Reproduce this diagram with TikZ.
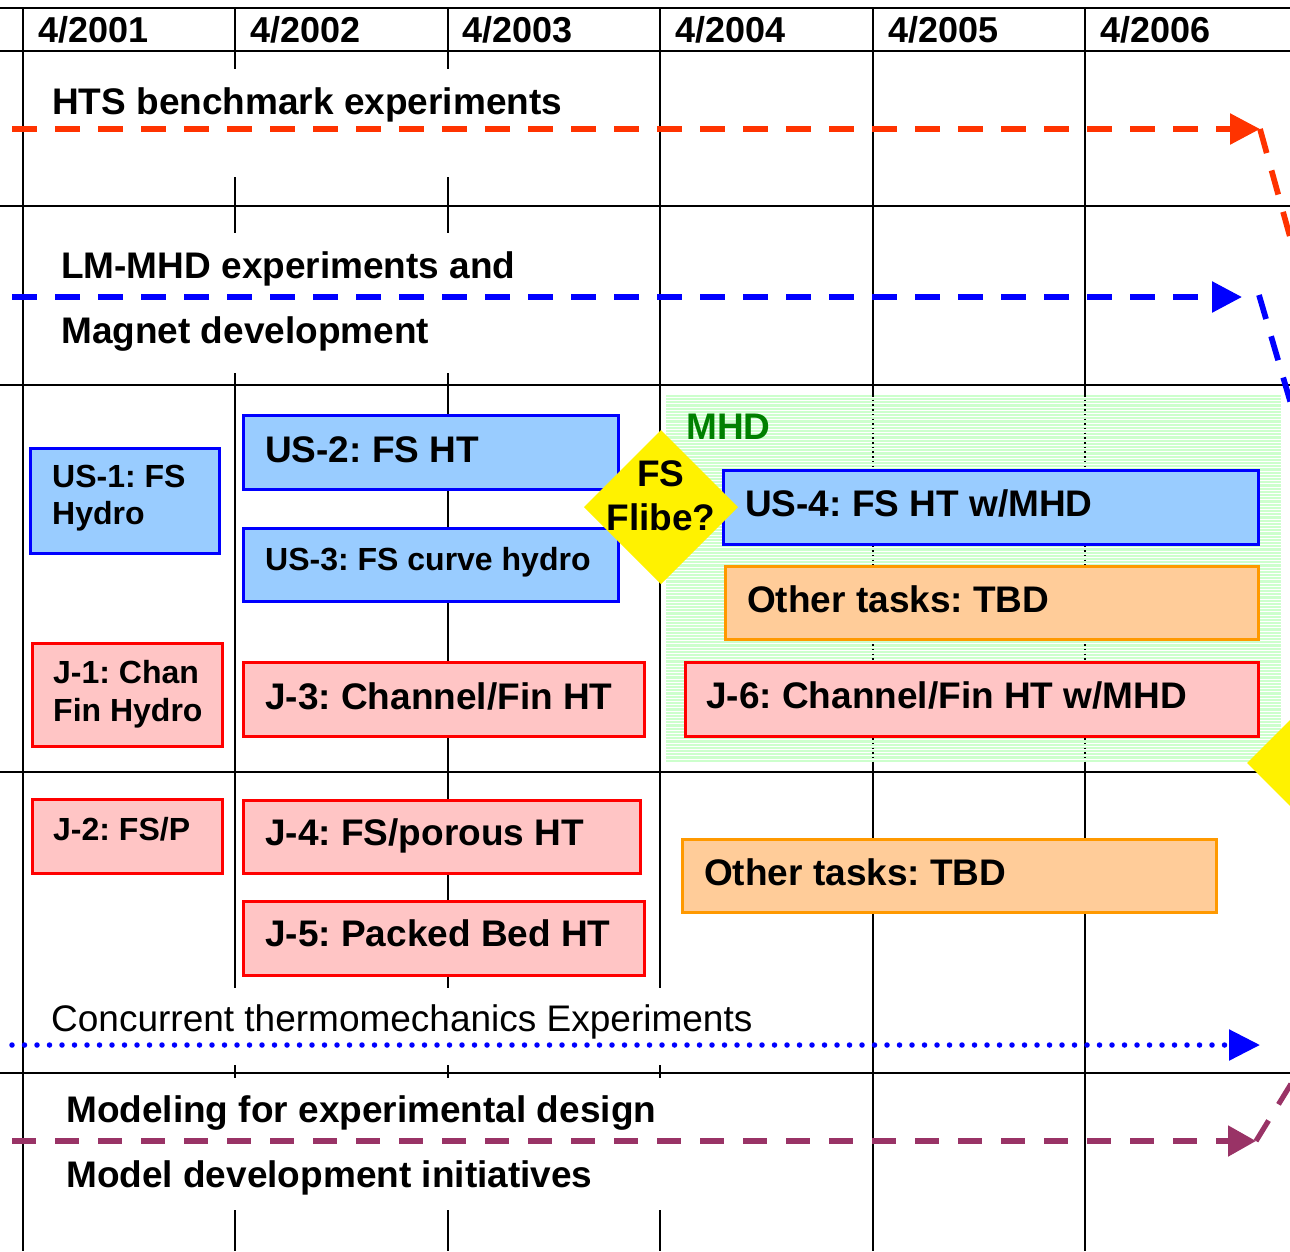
\documentclass[tikz,border=0pt]{standalone}
\usepackage{fontspec}
\setmainfont{Liberation Sans}
\frenchspacing
\usetikzlibrary{arrows.meta,shapes.geometric}
\definecolor{boxblue}{HTML}{99CCFF}
\definecolor{boxpink}{HTML}{FFC5C5}
\definecolor{boxorange}{HTML}{FFCC99}
\definecolor{edgeorange}{HTML}{FF9900}
\definecolor{htsred}{HTML}{FF3300}
\definecolor{mhdgreen}{HTML}{008000}
\definecolor{stripegreen}{HTML}{CCFFCC}
\definecolor{plum}{HTML}{993366}
\tikzset{
  gridline/.style={line width=2pt, black},
  lbl/.style={inner sep=0pt, anchor=base west, font=\frenchspacing\fontsize{37}{44}\selectfont\bfseries},
  hdr/.style={lbl, font=\fontsize{36}{42}\selectfont\bfseries},
  lblsmall/.style={lbl, font=\frenchspacing\fontsize{32}{37}\selectfont\bfseries},
  lblplain/.style={lbl, font=\frenchspacing\fontsize{37}{44}\selectfont},
  taskbox/.style={draw, line width=3pt, anchor=north west, inner sep=0pt, outer sep=0pt},
  bluebox/.style={taskbox, draw=blue, fill=boxblue},
  redbox/.style={taskbox, draw=red, fill=boxpink},
  orangebox/.style={taskbox, draw=edgeorange, fill=boxorange},
  flag/.style={diamond, fill=yellow, inner sep=0pt, outer sep=0pt, minimum width=154pt, minimum height=154pt},
  bigdash/.style={line width=5.7pt, dash pattern=on 25pt off 18pt},
  bigtip/.style={-{Triangle[length=30pt,width=30pt]}}
}
\begin{document}
\begin{tikzpicture}[x=1pt,y=-1pt]
\useasboundingbox (0,0) rectangle (1290,1251);
\clip (0,0) rectangle (1290,1251);

% grid
\foreach \yy in {8,51,206,385,772,1073} \draw[gridline] (0,\yy) -- (1290,\yy);
\draw[gridline] (23,8) -- (23,1251);
\foreach \xx in {235,448} {
  \draw[gridline] (\xx,8)--(\xx,69) (\xx,177)--(\xx,233) (\xx,373)--(\xx,988)
                  (\xx,1065)--(\xx,1078) (\xx,1210)--(\xx,1251);
}
\draw[gridline] (660,8)--(660,988) (660,1065)--(660,1078) (660,1210)--(660,1251);
\draw[gridline] (873,8)--(873,1251) (1085,8)--(1085,1251);

% header
\node[hdr] (h1) at (38,42) {4/2001};
\node[hdr] (h2) at (250,42) {4/2002};
\node[hdr] (h3) at (462,42) {4/2003};
\node[hdr] (h4) at (675,42) {4/2004};
\node[hdr] (h5) at (888,42) {4/2005};
\node[hdr] (h6) at (1100,42) {4/2006};

% MHD region
\fill[stripegreen] (666,395) rectangle (1281,762);
\foreach \i in {0,...,113} \draw[white, line width=0.9pt] (666,{397.5+3.2*\i}) -- (1281,{397.5+3.2*\i});
\draw[black, line width=1.5pt, dash pattern=on 1.5pt off 3.2pt] (873,395)--(873,762) (1085,395)--(1085,762);
\node[lbl, text=mhdgreen] (mhd) at (686,439) {MHD};

% row texts
\node[lbl] (hts) at (52,114) {HTS benchmark experiments};
\node[lbl] (lm1) at (61,278) {LM-MHD experiments and};
\node[lbl] (lm2) at (61,343) {Magnet development};

% US boxes
\node[bluebox, minimum width=189pt, minimum height=105pt] (us1) at (30.5,448.5) {};
\node[lblsmall] (us1a) at (52,487.5) {US-1: FS};
\node[lblsmall] (us1b) at (52,524) {Hydro};
\node[bluebox, minimum width=375pt, minimum height=74pt] (us2) at (243.5,415.5) {};
\node[lbl] (us2t) at (265,462) {US-2: FS HT};
\node[bluebox, minimum width=375pt, minimum height=73pt] (us3) at (243.5,528.5) {};
\node[lblsmall] (us3t) at (265,570) {US-3: FS curve hydro};

% J boxes
\node[redbox, minimum width=190pt, minimum height=103pt] (j1) at (32.5,643.5) {};
\node[lblsmall] (j1a) at (53,683.5) {J-1: Chan};
\node[lblsmall] (j1b) at (53,721) {Fin Hydro};
\node[redbox, minimum width=401pt, minimum height=74pt] (j3) at (243.5,662.5) {};
\node[lbl] (j3t) at (265,709) {J-3: Channel/Fin HT};
\node[redbox, minimum width=190pt, minimum height=74pt] (j2) at (32.5,799.5) {};
\node[lblsmall] (j2t) at (53,840.5) {J-2: FS/P};
\node[redbox, minimum width=397pt, minimum height=73pt] (j4) at (243.5,800.5) {};
\node[lbl] (j4t) at (265,845.6) {J-4: FS/porous HT};
\node[redbox, minimum width=401pt, minimum height=74pt] (j5) at (243.5,901.5) {};
\node[lbl] (j5t) at (265,946) {J-5: Packed Bed HT};

% right boxes
\node[bluebox, minimum width=535pt, minimum height=74pt] (us4) at (723.5,470.5) {};
\node[lbl] (us4t) at (745,516) {US-4: FS HT w/MHD};
\node[orangebox, minimum width=533pt, minimum height=73pt] (oth1) at (725.5,566.5) {};
\node[lbl] (oth1t) at (747,612) {Other tasks: TBD};
\node[redbox, minimum width=573pt, minimum height=74pt] (j6) at (685.5,662.5) {};
\node[lbl] (j6t) at (706,708) {J-6: Channel/Fin HT w/MHD};
\node[orangebox, minimum width=534pt, minimum height=73pt] (oth2) at (682.5,839.5) {};
\node[lbl] (oth2t) at (704,885) {Other tasks: TBD};

% diamonds
\node[flag] (flibe) at (661,507) {};
\node[lbl, anchor=base] (flibe1) at (661,486) {FS};
\node[lbl, anchor=base] (flibe2) at (661,530) {Flibe?};
\node[flag] (flag2) at (1324,763) {};

% bottom texts
\node[lblplain] (conc) at (51,1031.7) {Concurrent thermomechanics Experiments};
\node[lbl] (mod1) at (66,1122.7) {Modeling for experimental design};
\node[lbl] (mod2) at (66,1187.7) {Model development initiatives};

% arrows
\coordinate (htsS) at (12,129);
\coordinate (htsE) at (1260,129);
\coordinate (htsX) at (1302,280);
\draw[htsred, bigdash, bigtip] (htsS) -- (htsE);
\draw[htsred, bigdash] (htsE) -- (htsX);

\coordinate (lmS) at (12,297);
\coordinate (lmE) at (1242,297);
\coordinate (lmC) at (1259,295);
\coordinate (lmX) at (1298,428);
\draw[blue, bigdash, bigtip] (lmS) -- (lmE);
\draw[blue, bigdash] (lmC) -- (lmX);

\coordinate (tmS) at (12,1045);
\coordinate (tmE) at (1260,1045);
\draw[blue, line width=5.5pt, line cap=round, dash pattern=on 0pt off 12.5pt,
      -{Triangle[length=31pt,width=30pt]}] (tmS) -- (tmE);

\coordinate (mdS) at (12,1141);
\coordinate (mdE) at (1256,1141);
\coordinate (mdX) at (1302,1066);
\draw[plum, line width=5.2pt, dash pattern=on 24pt off 19pt,
      -{Triangle[length=28pt,width=30pt]}] (mdS) -- (mdE);
\draw[plum, line width=5.2pt, dash pattern=on 24pt off 19pt] (mdE) -- (mdX);
\end{tikzpicture}
\end{document}
